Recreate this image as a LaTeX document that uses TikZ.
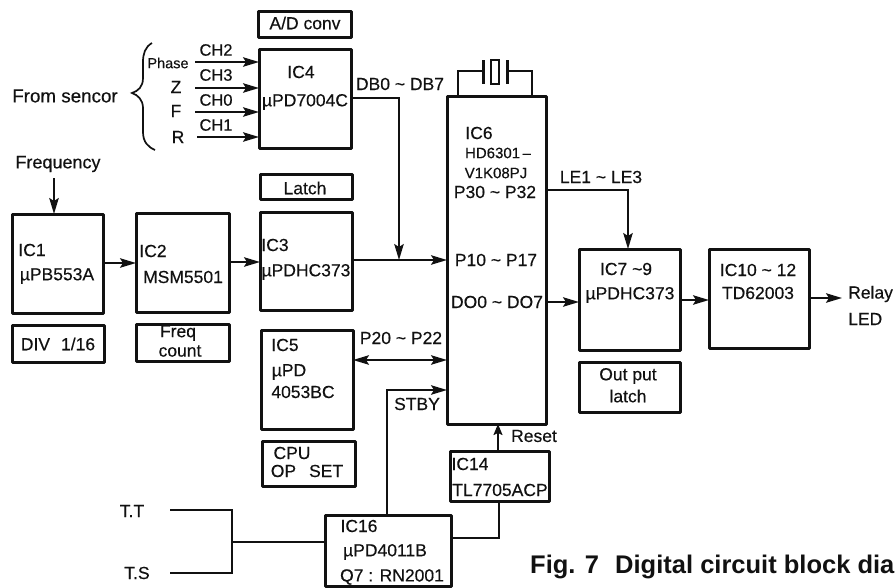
\documentclass[tikz,border=0pt]{standalone}
\usepackage{fontspec}
\setmainfont{Liberation Sans}[FakeBold=0.35]
\usetikzlibrary{arrows.meta}
\newfontfamily\capfont{Liberation Sans Bold}
\newcommand{\fs}[1]{\fontsize{#1}{#1}\selectfont}
\tikzset{
  box/.style={draw=ink,line width=3pt,inner sep=0pt,outer sep=0pt,line join=round},
  lbl/.style={inner sep=0pt,text=ink,font=\fs{17.5}},
  small/.style={lbl,font=\fs{15}},
  chl/.style={lbl,font=\fs{16.5}},
  wire/.style={draw=ink,line width=1.7pt},
  arrow/.style={wire,-{Stealth[length=16pt,width=9.5pt,inset=3pt]}},
  darrow/.style={wire,{Stealth[length=16pt,width=9.5pt,inset=3pt]}-{Stealth[length=16pt,width=9.5pt,inset=3pt]}},
}
\definecolor{ink}{HTML}{111111}
\newcommand{\ICbox}[5]{\node[box,minimum width={(#4-#2)*1pt},minimum height={(#5-#3)*1pt}] (#1) at ({(#2+#4)/2},{(#3+#5)/2}) {};}
\begin{document}
\begin{tikzpicture}[x=1pt,y=-1pt]
\useasboundingbox (0,0) rectangle (895,587);
% boxes
\ICbox{adconv}{258}{11}{351}{37}
\ICbox{ic4}{259}{49}{351}{148}
\ICbox{latchb}{260}{174}{352}{199}
\ICbox{ic3}{260}{212}{352}{310}
\ICbox{ic1}{12}{214}{103}{313}
\ICbox{ic2}{136}{213}{229}{312}
\ICbox{div}{12}{325}{104}{362}
\ICbox{freq}{136}{324}{229}{361}
\ICbox{ic5}{261}{330}{353}{429}
\ICbox{cpu}{262}{441}{355}{486}
\ICbox{ic6}{447}{96}{546}{424}
\ICbox{ic14}{450}{451}{549}{501}
\ICbox{ic16}{325}{515}{451}{586}
\ICbox{ic7}{579}{249}{680}{350}
\ICbox{ic10}{709}{249}{809}{348}
\ICbox{outl}{579}{362}{680}{412}
% texts
\node[lbl] (tad) at (305,23) {A/D conv};
\node[chl] (tch2) at (216,50) {CH2};
\node[chl] (tch3) at (216,75) {CH3};
\node[chl] (tch0) at (216,100) {CH0};
\node[chl] (tch1) at (216,125) {CH1};
\node[lbl,font=\fs{14.5}] (tph) at (168,63) {Phase};
\node[lbl] (tz) at (176,87) {Z};
\node[lbl] (tf) at (176,111) {F};
\node[lbl] (tr) at (178,137) {R};
\node[lbl,font=\fs{18.8}] (tfrom) at (65,96) {From sencor};
\node[lbl] (tic4) at (301,72) {IC4};
\node[lbl] (tupd4) at (305,102) {µPD7004C};
\node[lbl] (tdb) at (400,84) {DB0 \textasciitilde{} DB7};
\node[lbl] (tlatch) at (305,188) {Latch};
\node[lbl,font=\fs{18}] (tfreqin) at (58,164) {Frequency};
\node[lbl] (tic1) at (32,250) {IC1};
\node[lbl] (tupb) at (57,276) {µPB553A};
\node[lbl] (tic2) at (153,251) {IC2};
\node[lbl] (tmsm) at (183,277) {MSM5501};
\node[lbl] (tic3) at (275,245) {IC3};
\node[lbl] (tupd3) at (306,272) {µPDHC373};
\node[lbl] (tdiv) at (58,344) {DIV\hspace{11pt}1/16};
\node[lbl] (tfr) at (178,333) {Freq};
\node[lbl] (tco) at (180,351) {count};
\node[lbl] (tic5) at (285,345) {IC5};
\node[lbl] (tupd) at (289,372) {µPD};
\node[lbl] (t4053) at (303,392) {4053BC};
\node[lbl] (tcpu) at (292,453) {CPU};
\node[lbl] (top) at (307,471) {OP\hspace{13pt}SET};
\node[lbl] (tp20) at (401,338) {P20 \textasciitilde{} P22};
\node[lbl] (tstby) at (417,404) {STBY};
\node[lbl] (treset) at (534,436) {Reset};
\node[lbl] (tic14) at (470,464) {IC14};
\node[lbl] (ttl) at (500,490) {TL7705ACP};
\node[lbl] (tic16) at (359,526) {IC16};
\node[lbl] (tupd11) at (385,552) {µPD4011B};
\node[lbl] (tq7) at (392,577) {Q7 : RN2001};
\node[lbl] (ttt) at (132,511) {T.T};
\node[lbl] (tts) at (137,573) {T.S};
\node[lbl] (tic6) at (479,133) {IC6};
\node[small] (thd) at (498,153) {HD6301\,\textendash};
\node[small] (tv1) at (496,173) {V1K08PJ};
\node[lbl] (tp30) at (495,192) {P30 \textasciitilde{} P32};
\node[lbl] (tp10) at (496,260) {P10 \textasciitilde{} P17};
\node[lbl] (tdo) at (497,302) {DO0 \textasciitilde{} DO7};
\node[lbl] (tle) at (601,177) {LE1 \textasciitilde{} LE3};
\node[lbl] (tic7) at (626,269) {IC7 \textasciitilde{}9};
\node[lbl] (tupd7) at (630,295) {µPDHC373};
\node[lbl] (tic10) at (758,270) {IC10 \textasciitilde{} 12};
\node[lbl] (ttd) at (758,293) {TD62003};
\node[lbl,anchor=west] (trelay) at (848,294) {Relay};
\node[lbl,anchor=west] (tled) at (848,319) {LED};
\node[lbl] (tout) at (628,376) {Out put};
\node[lbl] (tlt) at (628,396) {latch};
\begin{scope}
\clip (0,0) rectangle (895,587);
\node[lbl,font=\capfont\fs{25.5},anchor=base west] (tcap) at (530,573) {Fig. 7\hspace{9pt} Digital circuit block dia};
\end{scope}
% free ends
\coordinate (sph) at (195,62);
\coordinate (sz) at (195,88);
\coordinate (sf) at (195,112);
\coordinate (sr) at (197,137);
\coordinate (fq) at (54,178);
\coordinate (jn) at (399,260);
\coordinate (db) at (399,98);
\coordinate (st) at (387,390);
\coordinate (le) at (628,190);
\coordinate (ttend) at (170,510);
\coordinate (tsend) at (170,573);
\coordinate (tjt) at (232,510);
\coordinate (tjs) at (232,573);
\coordinate (tjm) at (232,542);
\coordinate (rs) at (499,538);
\coordinate (out) at (842,298);
\coordinate (xl) at (458,96);
\coordinate (xr) at (532,96);
\coordinate (xla) at (483,71);
\coordinate (xra) at (507,71);
% connectors
\draw[arrow] (sph) -- (ic4.west |- sph);
\draw[arrow] (sz) -- (ic4.west |- sz);
\draw[arrow] (sf) -- (ic4.west |- sf);
\draw[arrow] (sr) -- (ic4.west |- sr);
\draw[arrow] (ic4.east |- db) -- (db) -- (jn);
\draw[arrow] (fq) -- (fq |- ic1.north);
\draw[arrow] (ic1.east |- 0,263) -- (ic2.west |- 0,263);
\draw[arrow] (ic2.east |- 0,262) -- (ic3.west |- 0,262);
\draw[arrow] (ic3.east |- jn) -- (ic6.west |- jn);
\draw[darrow] (ic5.east |- 0,360) -- (ic6.west |- 0,360);
\draw[arrow] (st |- ic16.north) -- (st) -- (ic6.west |- st);
\draw[arrow,-{Stealth[length=11pt,width=9pt,inset=2pt]}] (ic14.north -| 498,0) -- (ic6.south -| 498,0);
\draw[wire] (ic16.east |- rs) -- (rs) -- (rs |- ic14.south);
\draw[wire] (ttend) -- (tjt) -- (tjs) -- (tsend);
\draw[wire] (tjm) -- (ic16.west |- tjm);
\draw[arrow] (ic6.east |- le) -- (le) -- (le |- ic7.north);
\draw[arrow] (ic6.east |- 0,302) -- (ic7.west |- 0,302);
\draw[arrow] (ic7.east |- 0,300) -- (ic10.west |- 0,300);
\draw[arrow] (ic10.east |- out) -- (out);
% crystal
\draw[wire] (xl) -- (xl |- xla) -- (xla);
\draw[wire] (xr) -- (xr |- xra) -- (xra);
\draw[ink,line width=3pt] (483,60) -- (483,84);
\draw[ink,line width=3pt] (507,60) -- (507,84);
\draw[ink,line width=1.6pt] (491,60) rectangle (499,84);
% brace
\draw[wire] (152,43) .. controls (145,47) and (143,54) .. (143,62) -- (143,78) .. controls (143,87) and (138,91) .. (132,93) .. controls (138,95) and (143,100) .. (143,108) -- (143,132) .. controls (143,142) and (148,147) .. (155,150);
\end{tikzpicture}
\end{document}
